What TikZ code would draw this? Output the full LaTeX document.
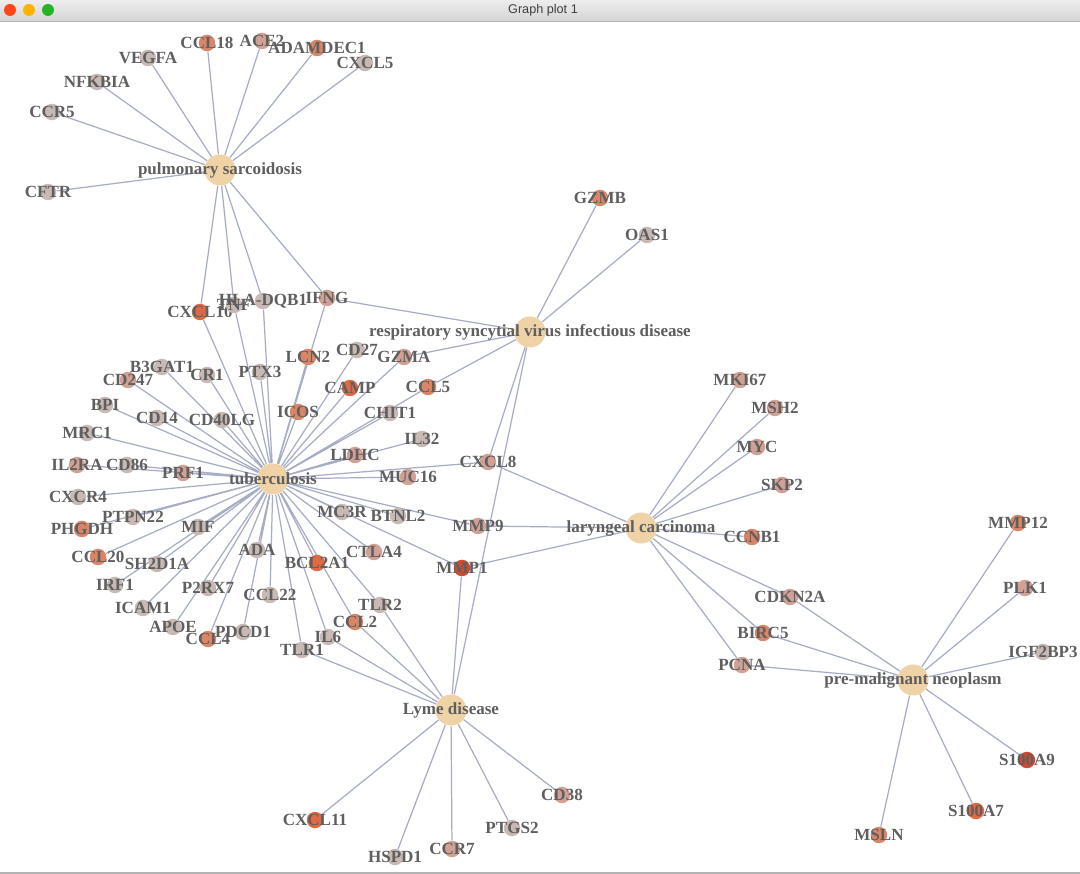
\documentclass[tikz,border=0pt]{standalone}
\usepackage{fontspec}
\setmainfont{Liberation Serif}
\setsansfont{Liberation Sans}
\usetikzlibrary{backgrounds}

\definecolor{hubtan}{HTML}{EFD3A6}
\definecolor{genegray}{HTML}{C8B9B5}
\definecolor{genepink}{HTML}{D2A195}
\definecolor{geneorange}{HTML}{DB8567}
\definecolor{genered}{HTML}{E06842}
\definecolor{genedark}{HTML}{CF4B30}
\definecolor{edgeblue}{HTML}{A6ADC5}
\definecolor{labelgray}{HTML}{5F5F5F}
\definecolor{bartop}{HTML}{EDEDED}
\definecolor{barbottom}{HTML}{D5D5D5}
\definecolor{barline}{HTML}{B3B3B3}

\tikzset{
  hub/.style={circle, inner sep=0pt, minimum size=0.62cm, fill=hubtan},
  gene/.style={circle, inner sep=0pt, minimum size=0.33cm, fill=#1},
  link/.style={draw=edgeblue, line width=0.7pt},
  every label/.style={font=\fontsize{9.7}{10}\selectfont\bfseries, text=labelgray, inner sep=0pt},
}

\begin{document}
\begin{tikzpicture}[x=0.02cm, y=-0.02cm]
\useasboundingbox (0,0) rectangle (1080,874);

\node[font=\sffamily\fontsize{7.2}{8}\selectfont, text=black!75] (title) at (543,10) {Graph plot 1};

\node[gene=geneorange, label=center:CCL18] (ccl18) at (207,43) {};
\node[gene=genepink, label=center:ACE2] (ace2) at (262,41) {};
\node[gene=geneorange, label=center:ADAMDEC1] (adamdec1) at (317,48) {};
\node[gene=genegray, label=center:CXCL5] (cxcl5) at (365,63) {};
\node[gene=genegray, label=center:VEGFA] (vegfa) at (148,58) {};
\node[gene=genegray, label=center:NFKBIA] (nfkbia) at (97,82) {};
\node[gene=genegray, label=center:CCR5] (ccr5) at (52,112) {};
\node[gene=genegray, label=center:CFTR] (cftr) at (48,192) {};
\node[gene=genered, label=center:CXCL10] (cxcl10) at (200,312) {};
\node[gene=genegray, label=center:TNF] (tnf) at (234,305) {};
\node[gene=genegray, label=center:HLA-DQB1] (hladqb1) at (263,301) {};
\node[gene=genepink, label=center:IFNG] (ifng) at (327,298) {};
\node[gene=geneorange, label=center:LCN2] (lcn2) at (308,357) {};
\node[gene=genegray, label=center:CD27] (cd27) at (357,350) {};
\node[gene=genepink, label=center:GZMA] (gzma) at (404,357) {};
\node[gene=genered, label=center:CAMP] (camp) at (350,388) {};
\node[gene=geneorange, label=center:CCL5] (ccl5) at (428,387) {};
\node[gene=genegray, label=center:PTX3] (ptx3) at (260,372) {};
\node[gene=genegray, label=center:CR1] (cr1) at (207,375) {};
\node[gene=genegray, label=center:B3GAT1] (b3gat1) at (162,367) {};
\node[gene=genepink, label=center:CD247] (cd247) at (128,380) {};
\node[gene=genegray, label=center:BPI] (bpi) at (105,405) {};
\node[gene=genegray, label=center:CD14] (cd14) at (157,418) {};
\node[gene=genegray, label=center:CD40LG] (cd40lg) at (222,420) {};
\node[gene=geneorange, label=center:ICOS] (icos) at (298,412) {};
\node[gene=genegray, label=center:CHIT1] (chit1) at (390,413) {};
\node[gene=genegray, label=center:IL32] (il32) at (422,439) {};
\node[gene=genepink, label=center:LDHC] (ldhc) at (355,455) {};
\node[gene=genepink, label=center:MUC16] (muc16) at (408,477) {};
\node[gene=genepink, label=center:CXCL8] (cxcl8) at (488,462) {};
\node[gene=genepink, label=center:MMP9] (mmp9) at (478,526) {};
\node[gene=genedark, label=center:MMP1] (mmp1) at (462,568) {};
\node[gene=genegray, label=center:MRC1] (mrc1) at (87,433) {};
\node[gene=genepink, label=center:IL2RA] (il2ra) at (77,465) {};
\node[gene=genegray, label=center:CD86] (cd86) at (127,465) {};
\node[gene=genepink, label=center:PRF1] (prf1) at (183,473) {};
\node[gene=genegray, label=center:CXCR4] (cxcr4) at (78,497) {};
\node[gene=genegray, label=center:PTPN22] (ptpn22) at (133,517) {};
\node[gene=geneorange, label=center:PHGDH] (phgdh) at (82,529) {};
\node[gene=genegray, label=center:MIF] (mif) at (198,527) {};
\node[gene=geneorange, label=center:CCL20] (ccl20) at (98,557) {};
\node[gene=genegray, label=center:SH2D1A] (sh2d1a) at (157,564) {};
\node[gene=genegray, label=center:IRF1] (irf1) at (115,585) {};
\node[gene=genegray, label=center:ICAM1] (icam1) at (143,608) {};
\node[gene=genegray, label=center:APOE] (apoe) at (173,627) {};
\node[gene=geneorange, label=center:CCL4] (ccl4) at (208,639) {};
\node[gene=genegray, label=center:PDCD1] (pdcd1) at (243,632) {};
\node[gene=genegray, label=center:P2RX7] (p2rx7) at (208,588) {};
\node[gene=genegray, label=center:ADA] (ada) at (257,550) {};
\node[gene=genegray, label=center:CCL22] (ccl22) at (270,595) {};
\node[gene=genered, label=center:BCL2A1] (bcl2a1) at (317,563) {};
\node[gene=genepink, label=center:CTLA4] (ctla4) at (374,552) {};
\node[gene=genegray, label=center:MC3R] (mc3r) at (342,512) {};
\node[gene=genegray, label=center:BTNL2] (btnl2) at (398,516) {};
\node[gene=genegray, label=center:TLR2] (tlr2) at (380,605) {};
\node[gene=geneorange, label=center:CCL2] (ccl2) at (355,622) {};
\node[gene=genegray, label=center:IL6] (il6) at (328,637) {};
\node[gene=genegray, label=center:TLR1] (tlr1) at (302,650) {};
\node[gene=genered, label=center:CXCL11] (cxcl11) at (315,820) {};
\node[gene=genegray, label=center:HSPD1] (hspd1) at (395,857) {};
\node[gene=genepink, label=center:CCR7] (ccr7) at (452,849) {};
\node[gene=genegray, label=center:PTGS2] (ptgs2) at (512,828) {};
\node[gene=genepink, label=center:CD38] (cd38) at (562,795) {};
\node[gene=geneorange, label=center:GZMB] (gzmb) at (600,198) {};
\node[gene=genegray, label=center:OAS1] (oas1) at (647,235) {};
\node[gene=genepink, label=center:MKI67] (mki67) at (740,380) {};
\node[gene=genepink, label=center:MSH2] (msh2) at (775,408) {};
\node[gene=genepink, label=center:MYC] (myc) at (757,447) {};
\node[gene=genepink, label=center:SKP2] (skp2) at (782,485) {};
\node[gene=geneorange, label=center:CCNB1] (ccnb1) at (752,537) {};
\node[gene=genepink, label=center:CDKN2A] (cdkn2a) at (790,597) {};
\node[gene=geneorange, label=center:BIRC5] (birc5) at (763,633) {};
\node[gene=genepink, label=center:PCNA] (pcna) at (742,665) {};
\node[gene=geneorange, label=center:MMP12] (mmp12) at (1018,523) {};
\node[gene=genepink, label=center:PLK1] (plk1) at (1025,588) {};
\node[gene=genegray, label=center:IGF2BP3] (igf2bp3) at (1043,652) {};
\node[gene=genedark, label=center:S100A9] (s100a9) at (1027,760) {};
\node[gene=genered, label=center:S100A7] (s100a7) at (976,811) {};
\node[gene=geneorange, label=center:MSLN] (msln) at (879,835) {};

\node[hub, label=center:pulmonary sarcoidosis] (sarc) at (220,170) {};
\node[hub, label=center:respiratory syncytial virus infectious disease] (rsv) at (530,332) {};
\node[hub, label=center:tuberculosis] (tb) at (273,479) {};
\node[hub, label=center:laryngeal carcinoma] (lar) at (641,528) {};
\node[hub, label=center:pre-malignant neoplasm] (pre) at (913,680) {};
\node[hub, label=center:Lyme disease] (lyme) at (451,710) {};

\begin{scope}[on background layer]
\fill[white] (0,0) rectangle (1080,874);
\shade[top color=bartop, bottom color=barbottom] (0,0) rectangle (1080,21);
\draw[barline] (0,21) -- (1080,21);
\draw[barline, line width=0.8pt] (0,873) -- (1080,873);
\fill[red!60!orange!90!white] (10,10) circle (6);
\fill[orange!60!yellow] (29,10) circle (6);
\fill[green!65!black!85!white] (48,10) circle (6);

\draw[link] (sarc) -- (ccl18) (sarc) -- (ace2) (sarc) -- (adamdec1) (sarc) -- (cxcl5)
  (sarc) -- (vegfa) (sarc) -- (nfkbia) (sarc) -- (ccr5) (sarc) -- (cftr)
  (sarc) -- (cxcl10) (sarc) -- (tnf) (sarc) -- (hladqb1) (sarc) -- (ifng);
\draw[link] (rsv) -- (gzmb) (rsv) -- (oas1) (rsv) -- (ifng) (rsv) -- (gzma)
  (rsv) -- (ccl5) (rsv) -- (cxcl8) (rsv) -- (lyme);
\draw[link] (tb) -- (cxcl10) (tb) -- (tnf) (tb) -- (hladqb1) (tb) -- (ifng)
  (tb) -- (lcn2) (tb) -- (cd27) (tb) -- (gzma) (tb) -- (camp) (tb) -- (ccl5)
  (tb) -- (ptx3) (tb) -- (cr1) (tb) -- (b3gat1) (tb) -- (cd247) (tb) -- (bpi)
  (tb) -- (cd14) (tb) -- (cd40lg) (tb) -- (icos) (tb) -- (chit1) (tb) -- (il32)
  (tb) -- (ldhc) (tb) -- (muc16) (tb) -- (cxcl8) (tb) -- (mrc1) (tb) -- (il2ra)
  (tb) -- (cd86) (tb) -- (prf1) (tb) -- (cxcr4) (tb) -- (ptpn22) (tb) -- (phgdh)
  (tb) -- (mif) (tb) -- (ccl20) (tb) -- (sh2d1a) (tb) -- (irf1) (tb) -- (icam1)
  (tb) -- (apoe) (tb) -- (ccl4) (tb) -- (pdcd1) (tb) -- (p2rx7) (tb) -- (ada)
  (tb) -- (ccl22) (tb) -- (bcl2a1) (tb) -- (ctla4) (tb) -- (mc3r) (tb) -- (btnl2)
  (tb) -- (mmp9) (tb) -- (mmp1) (tb) -- (tlr1) (tb) -- (il6) (tb) -- (ccl2) (tb) -- (tlr2);
\draw[link] (lyme) -- (tlr1) (lyme) -- (il6) (lyme) -- (ccl2) (lyme) -- (tlr2)
  (lyme) -- (mmp1) (lyme) -- (cxcl11) (lyme) -- (hspd1) (lyme) -- (ccr7)
  (lyme) -- (ptgs2) (lyme) -- (cd38);
\draw[link] (lar) -- (mki67) (lar) -- (msh2) (lar) -- (myc) (lar) -- (skp2)
  (lar) -- (ccnb1) (lar) -- (cdkn2a) (lar) -- (birc5) (lar) -- (pcna)
  (lar) -- (cxcl8) (lar) -- (mmp9) (lar) -- (mmp1);
\draw[link] (pre) -- (cdkn2a) (pre) -- (birc5) (pre) -- (pcna) (pre) -- (mmp12)
  (pre) -- (plk1) (pre) -- (igf2bp3) (pre) -- (s100a9) (pre) -- (s100a7) (pre) -- (msln);
\end{scope}
\end{tikzpicture}
\end{document}
